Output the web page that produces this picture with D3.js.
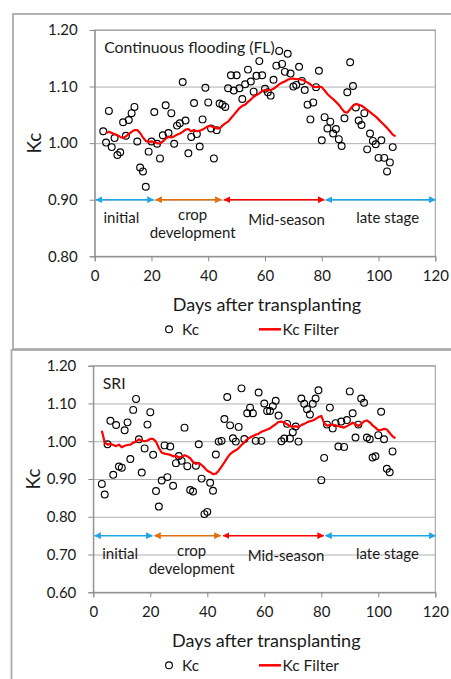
<!DOCTYPE html>
<html>
<head>
<meta charset="utf-8">
<script src="https://cdn.jsdelivr.net/npm/d3@7"></script>
<style>
  body { margin: 0; background: #fff; }
  svg text { font-family: Lato, "Open Sans", sans-serif; fill: #1a1a1a; }
</style>
</head>
<body>
<svg id="chart" width="451" height="679"></svg>
<script>
// days with a measured Kc value (both treatments)
const days = [3,4,5,6,7,8,9,10,11,12,13,14,15,16,17,18,19,20,21,22,23,24,25,26,27,28,29,30,
  31,32,33,34,35,36,37,38,39,40,41,42,43,44,45,46,47,48,49,50,51,52,53,54,55,56,57,58,59,60,
  61,62,63,64,65,66,67,68,69,70,71,72,73,74,75,76,77,78,79,80,81,82,83,84,85,86,87,88,89,90,
  91,92,93,94,95,96,97,98,99,100,101,102,103,104,105];

const kcFL = [1.021,1.001,1.057,0.993,1.009,0.979,0.984,1.037,1.013,1.041,1.053,1.064,1.003,0.957,
  0.950,0.923,0.985,1.003,1.055,0.999,0.973,1.014,1.067,1.018,1.053,0.999,1.031,1.035,1.108,1.040,
  0.982,1.011,1.071,1.016,0.994,1.042,1.098,1.072,1.026,0.973,1.023,1.070,1.068,1.064,1.097,1.120,
  1.093,1.120,1.097,1.078,1.104,1.130,1.109,1.091,1.119,1.145,1.120,1.096,1.090,1.084,1.112,1.137,
  1.163,1.140,1.126,1.158,1.123,1.100,1.103,1.135,1.110,1.094,1.068,1.042,1.072,1.099,1.128,1.005,
  1.046,1.026,1.038,1.017,1.025,1.007,0.995,1.044,1.090,1.143,1.101,1.063,1.040,1.032,1.053,0.989,
  1.017,1.004,0.998,0.974,1.005,0.974,0.950,0.966,0.993];

const kcSRI = [0.887,0.859,0.992,1.054,0.911,1.043,0.933,0.930,1.029,1.050,0.953,1.083,1.112,1.005,
  0.917,0.981,1.044,1.077,0.964,0.868,0.827,0.896,0.989,0.905,0.986,0.882,0.942,0.961,0.948,1.036,
  0.934,0.871,0.867,0.935,0.992,0.901,0.807,0.813,0.890,0.869,0.965,0.999,1.001,1.059,1.117,1.042,
  1.008,0.999,1.038,1.140,1.006,1.074,1.089,1.074,1.001,1.129,1.001,1.100,1.080,1.080,1.093,1.107,
  1.068,1.000,1.007,1.046,1.007,1.024,1.039,0.999,1.113,1.099,1.085,1.071,1.099,1.113,1.135,0.897,
  0.956,1.044,1.089,1.034,1.048,0.986,1.052,0.985,1.056,1.132,1.074,1.010,1.044,1.113,1.102,1.010,
  1.005,0.957,0.960,1.016,1.078,1.005,0.927,0.918,0.973];

// smoothed curves (Kc Filter)
const filterDaysFL = [4,5,6,7,8,9,10,11,12,13,14,15,16,17,18,19,20,21,22,23,24,25,26,27,28,29,30,
  31,32,33,34,35,36,37,38,39,40,41,42,43,44,45,46,47,48,49,50,51,52,53,54,55,56,57,58,59,60,
  61,62,63,64,65,66,67,68,69,70,71,72,73,74,75,76,77,78,79,80,81,82,83,84,85,86,87,88,89,90,
  91,92,93,94,95,96,97,98,99,100,101,102,103,104,105,106];
const filterFL = [1.018,1.020,1.018,1.016,1.014,1.011,1.009,1.012,1.016,1.020,1.023,1.023,1.018,
  1.010,1.004,1.002,1.003,1.002,1.000,0.999,1.003,1.008,1.011,1.010,1.012,1.015,1.017,1.020,1.024,
  1.025,1.021,1.023,1.021,1.022,1.024,1.027,1.030,1.030,1.028,1.026,1.026,1.031,1.035,1.038,1.044,
  1.050,1.056,1.062,1.066,1.068,1.073,1.077,1.082,1.085,1.088,1.092,1.094,1.093,1.094,1.096,1.100,
  1.104,1.107,1.109,1.112,1.114,1.114,1.113,1.113,1.112,1.110,1.107,1.104,1.100,1.099,1.100,1.099,
  1.093,1.087,1.082,1.078,1.073,1.068,1.061,1.055,1.054,1.060,1.066,1.069,1.068,1.066,1.063,1.059,
  1.055,1.051,1.047,1.042,1.037,1.032,1.027,1.021,1.015,1.012];

const filterDaysSRI = [3,4,5,6,7,8,9,10,11,12,13,14,15,16,17,18,19,20,21,22,23,24,25,26,27,28,29,30,
  31,32,33,34,35,36,37,38,39,40,41,42,43,44,45,46,47,48,49,50,51,52,53,54,55,56,57,58,59,60,
  61,62,63,64,65,66,67,68,69,70,71,72,73,74,75,76,77,78,79,80,81,82,83,84,85,86,87,88,89,90,
  91,92,93,94,95,96,97,98,99,100,101,102,103,104,105,106];
const filterSRI = [1.028,0.997,0.991,0.993,0.990,0.987,0.991,0.984,0.988,0.990,0.991,0.996,0.999,
  1.005,1.002,1.000,1.002,1.006,1.006,0.999,0.982,0.970,0.967,0.966,0.964,0.960,0.962,0.957,0.959,
  0.963,0.960,0.955,0.945,0.940,0.943,0.937,0.930,0.922,0.918,0.913,0.914,0.922,0.933,0.944,0.956,
  0.966,0.972,0.976,0.982,0.990,0.997,1.005,1.010,1.014,1.017,1.020,1.025,1.028,1.031,1.034,1.040,
  1.045,1.051,1.052,1.049,1.045,1.040,1.038,1.040,1.037,1.043,1.046,1.050,1.053,1.055,1.059,1.064,
  1.067,1.048,1.041,1.043,1.044,1.042,1.040,1.038,1.036,1.040,1.044,1.049,1.045,1.040,1.046,1.053,
  1.055,1.050,1.042,1.036,1.029,1.030,1.033,1.031,1.022,1.013,1.008];

// growth stages
const stageNames = ['initial', 'crop\ndevelopment', 'Mid-season', 'late stage'];
const stageStart = [0.5, 21.5, 45.6, 81.5];
const stageEnd = [20.7, 44.6, 80.8, 120];
const stageLabelDay = [9.4, 34.5, 67.6, 103.2];
const stageColors = ['#1ea7e8', '#e3700f', '#ff0000', '#1ea7e8'];

const xTicks = [0, 20, 40, 60, 80, 100, 120];

const svg = d3.select('#chart');

// one marker per arrow colour
const defs = svg.append('defs');
Array.from(new Set(stageColors)).forEach(c => {
    defs.append('marker')
        .attr('id', 'arr' + c.slice(1))
        .attr('viewBox', '0 0 10 10')
        .attr('refX', 9).attr('refY', 5)
        .attr('markerWidth', 4.6).attr('markerHeight', 4.6)
        .attr('markerUnits', 'strokeWidth')
        .attr('orient', 'auto-start-reverse')
        .append('path')
        .attr('d', 'M0,0 L10,5 L0,10 z')
        .attr('fill', c);
});

function drawPanel(p) {
    // chart area frame
    svg.append('rect')
        .attr('x', p.frame[0]).attr('y', p.frame[1])
        .attr('width', p.frame[2]).attr('height', p.frame[3])
        .attr('fill', 'none').attr('stroke', '#ababab').attr('stroke-width', 1.8);

    const x = d3.scaleLinear().domain([0, 120]).range([p.left, p.right]);
    const y = d3.scaleLinear().domain(p.yDomain).range([p.bottom, p.top]);
    const g = svg.append('g');

    // gridlines
    g.append('g')
        .attr('transform', `translate(${p.left},0)`)
        .call(d3.axisLeft(y).tickValues(p.yTicks).tickSize(-(p.right - p.left)).tickFormat(''))
        .call(a => a.select('.domain').remove())
        .call(a => a.selectAll('line').attr('stroke', '#b0b0b0'));

    // plot area border
    g.append('rect')
        .attr('x', p.left).attr('y', p.top)
        .attr('width', p.right - p.left).attr('height', p.bottom - p.top)
        .attr('fill', 'none').attr('stroke', '#9a9a9a');

    const yAxis = g.append('g')
        .attr('transform', `translate(${p.left},0)`)
        .call(d3.axisLeft(y).tickValues(p.yTicks).tickFormat(d3.format('.2f')).tickSize(5).tickPadding(12));
    const xAxis = g.append('g')
        .attr('transform', `translate(0,${p.bottom})`)
        .call(d3.axisBottom(x).tickValues(xTicks).tickSize(5).tickPadding(9));
    [yAxis, xAxis].forEach(a => {
        a.select('.domain').attr('stroke', '#8a8a8a');
        a.selectAll('.tick line').attr('stroke', '#8a8a8a');
        a.selectAll('text').attr('font-size', 15).attr('fill', '#1a1a1a')
            .style('font-family', 'Lato, sans-serif');
    });

    // stage arrows
    stageNames.forEach((name, i) => {
        const c = stageColors[i];
        g.append('line')
            .attr('x1', x(stageStart[i])).attr('x2', x(stageEnd[i]))
            .attr('y1', y(p.arrowAt)).attr('y2', y(p.arrowAt))
            .attr('stroke', c).attr('stroke-width', 1.5)
            .attr('marker-start', `url(#arr${c.slice(1)})`)
            .attr('marker-end', `url(#arr${c.slice(1)})`);
        const lines = name.split('\n');
        lines.forEach((ln, j) => {
            const dy = lines.length > 1 ? 14.5 + j * 17.5 : (i == 2 ? 19 : 17.5);
            g.append('text')
                .attr('x', x(stageLabelDay[i]))
                .attr('y', y(p.arrowAt) + dy)
                .attr('text-anchor', 'middle')
                .attr('dominant-baseline', 'central')
                .attr('font-size', 15)
                .attr('fill', '#3a3a3a')
                .text(ln);
        });
    });

    // Kc points
    g.append('g').selectAll('circle')
        .data(days.map((d, i) => [d, p.kc[i]]))
        .join('circle')
        .attr('cx', d => x(d[0]))
        .attr('cy', d => y(d[1]))
        .attr('r', 3.4)
        .attr('fill', 'none')
        .attr('stroke', '#000')
        .attr('stroke-width', 1.15);

    // Kc filter
    g.append('path')
        .datum(p.filterDays.map((d, i) => [d, p.filter[i]]))
        .attr('d', d3.line().x(d => x(d[0])).y(d => y(d[1])))
        .attr('fill', 'none')
        .attr('stroke', '#ff0000')
        .attr('stroke-width', 2.2)
        .attr('stroke-linejoin', 'round');

    // panel title
    g.append('text')
        .attr('x', p.left + 9.5).attr('y', p.top + 16.5)
        .attr('dominant-baseline', 'central')
        .attr('font-size', 15.8)
        .text(p.title);

    // axis titles
    g.append('text')
        .attr('transform', `translate(${p.left - 61},${(p.top + p.bottom) / 2}) rotate(-90)`)
        .attr('text-anchor', 'middle')
        .attr('dominant-baseline', 'central')
        .attr('font-size', 19)
        .text('Kc');
    g.append('text')
        .attr('x', (p.left + p.right) / 2 + 2).attr('y', p.bottom + 48)
        .attr('text-anchor', 'middle')
        .attr('dominant-baseline', 'central')
        .attr('font-size', 18)
        .text('Days after transplanting');

    // legend
    const ly = p.bottom + 73;
    g.append('circle').attr('cx', 169).attr('cy', ly).attr('r', 3.4)
        .attr('fill', 'none').attr('stroke', '#000').attr('stroke-width', 1.1);
    g.append('text').attr('x', 182).attr('y', ly).attr('dominant-baseline', 'central')
        .attr('font-size', 15.5).text('Kc');
    g.append('line').attr('x1', 259).attr('x2', 281).attr('y1', ly).attr('y2', ly)
        .attr('stroke', '#ff0000').attr('stroke-width', 2.5);
    g.append('text').attr('x', 282.5).attr('y', ly).attr('dominant-baseline', 'central')
        .attr('font-size', 15.5).text('Kc Filter');
}

drawPanel({
    frame: [13, 14, 460, 335],
    left: 94.7, right: 435.3, top: 30, bottom: 256.3,
    yDomain: [0.8, 1.2], yTicks: [0.8, 0.9, 1.0, 1.1, 1.2],
    arrowAt: 0.9, title: 'Continuous flooding (FL)',
    kc: kcFL, filterDays: filterDaysFL, filter: filterFL
});

drawPanel({
    frame: [11.5, 350, 460, 340],
    left: 93.3, right: 435.3, top: 365.7, bottom: 592.3,
    yDomain: [0.6, 1.2], yTicks: [0.6, 0.7, 0.8, 0.9, 1.0, 1.1, 1.2],
    arrowAt: 0.75, title: 'SRI',
    kc: kcSRI, filterDays: filterDaysSRI, filter: filterSRI
});
</script>
</body>
</html>
